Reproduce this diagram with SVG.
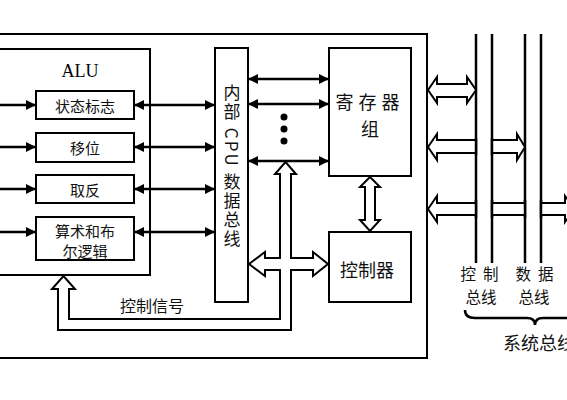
<svg xmlns="http://www.w3.org/2000/svg" width="567" height="400" viewBox="0 0 567 400">
<style>
.box{fill:#fff;stroke:#000;stroke-width:2}
.ln{stroke:#000;stroke-width:2.5;fill:none}
.bus{stroke:#000;stroke-width:2.5}
.hol{fill:#fff;stroke:#000;stroke-width:2;stroke-linejoin:miter}
.cn{font-family:"Noto Sans CJK SC","Noto Sans",sans-serif;fill:#111;text-anchor:middle;dominant-baseline:central}
.ser{font-family:"Liberation Serif",serif;fill:#000;text-anchor:middle;dominant-baseline:central}
</style>
<defs>
<marker id="ah" markerUnits="userSpaceOnUse" markerWidth="11" markerHeight="11" refX="10" refY="5" orient="auto-start-reverse">
<path d="M0,0 L10,5 L0,10 z" fill="#000"/>
</marker>
</defs>
<rect width="567" height="400" fill="#fff"/>

<g id="outer"><rect class="box" x="-10" y="34" width="437" height="324"/></g>

<g id="alu">
<rect class="box" x="-10" y="49" width="160" height="226"/>
<text class="ser" x="80" y="71" font-size="18">ALU</text>
</g>
<g id="flag"><rect class="box" x="36" y="91" width="98" height="28"/><text class="cn" x="85" y="105" font-size="15">状态标志</text></g>
<g id="shift"><rect class="box" x="36" y="133" width="98" height="29"/><text class="cn" x="85" y="147" font-size="15">移位</text></g>
<g id="neg"><rect class="box" x="36" y="175" width="98" height="28"/><text class="cn" x="85" y="189" font-size="15">取反</text></g>
<g id="arith"><rect class="box" x="36" y="217" width="98" height="43"/><text class="cn" font-size="15"><tspan x="85" y="230">算术和布</tspan><tspan x="85" y="250">尔逻辑</tspan></text></g>

<g id="ibus">
<rect class="box" x="215" y="48" width="33" height="254"/>
<text x="232" y="84" font-size="17" font-family="Noto Sans CJK SC, sans-serif" fill="#111" style="writing-mode:vertical-rl;text-orientation:mixed" letter-spacing="2">内部 CPU 数据总线</text>
</g>

<g id="regs">
<rect class="box" x="329" y="48" width="82" height="128"/>
<text class="cn" font-size="18"><tspan x="370" y="101" letter-spacing="5">寄存器</tspan><tspan x="370" y="128">组</tspan></text>
</g>
<g id="ctrl">
<rect class="box" x="329" y="232" width="82" height="70"/>
<text class="cn" x="367" y="269" font-size="18">控制器</text>
</g>

<g id="sysbus">
<line class="bus" x1="476" y1="34" x2="476" y2="263"/>
<line class="bus" x1="492" y1="34" x2="492" y2="263"/>
<line class="bus" x1="525" y1="34" x2="525" y2="263"/>
<line class="bus" x1="541" y1="34" x2="541" y2="263"/>
<text class="cn" font-size="15.5"><tspan x="483" y="273" letter-spacing="7">控制</tspan><tspan x="481" y="296">总线</tspan></text>
<text class="cn" font-size="15.5"><tspan x="538" y="273" letter-spacing="7">数据</tspan><tspan x="534" y="296">总线</tspan></text>
<path class="ln" stroke-width="2" d="M465,310 Q465,318 475,318 L527,318 Q535,318 535,325 Q535,318 543,318 L595,318 Q605,318 605,310"/>
<text class="cn" x="503" y="342" font-size="18" style="text-anchor:start">系统总线</text>
</g>

<g id="connectors">
<line class="ln" x1="-5" y1="105" x2="36" y2="105" marker-end="url(#ah)"/>
<line class="ln" x1="-5" y1="147" x2="36" y2="147" marker-end="url(#ah)"/>
<line class="ln" x1="-5" y1="189" x2="36" y2="189" marker-end="url(#ah)"/>
<line class="ln" x1="-5" y1="232" x2="36" y2="232" marker-end="url(#ah)"/>
<line class="ln" x1="134" y1="105" x2="215" y2="105" marker-start="url(#ah)" marker-end="url(#ah)"/>
<line class="ln" x1="134" y1="147" x2="215" y2="147" marker-start="url(#ah)" marker-end="url(#ah)"/>
<line class="ln" x1="134" y1="189" x2="215" y2="189" marker-start="url(#ah)" marker-end="url(#ah)"/>
<line class="ln" x1="134" y1="232" x2="215" y2="232" marker-start="url(#ah)" marker-end="url(#ah)"/>
<line class="ln" x1="248" y1="79" x2="329" y2="79" marker-start="url(#ah)" marker-end="url(#ah)"/>
<line class="ln" x1="248" y1="104" x2="329" y2="104" marker-start="url(#ah)" marker-end="url(#ah)"/>
<line class="ln" x1="248" y1="161" x2="329" y2="161" marker-start="url(#ah)" marker-end="url(#ah)"/>
<circle cx="284" cy="117" r="3.5" fill="#000"/>
<circle cx="284" cy="129" r="3.5" fill="#000"/>
<circle cx="284" cy="141" r="3.5" fill="#000"/>

<polygon class="hol" points="285.5,162 296,174 291,174 291,258 313,258 313,252 328,264 313,276 313,270 291,270 291,330 58,330 58,289 52,289 63.5,276 75,289 69,289 69,319 280,319 280,270 265,270 265,276 249,264 265,252 265,258 280,258 280,174 275,174"/>
<text class="cn" x="152" y="305" font-size="16">控制信号</text>

<polygon class="hol" points="370,177 380,187 375,187 375,220 380,220 370,231 360,220 365,220 365,187 360,187"/>

<polygon class="hol" points="428,90 437,77 437,84 467,84 467,77 476,90 467,103 467,97 437,97 437,103"/>
<polygon class="hol" points="428,147 437,134 437,140 476,140 476,153 437,153 437,160"/>
<polygon class="hol" points="492,140 517,140 517,134 525,147 517,160 517,153 492,153"/>
<line class="bus" x1="476" y1="138" x2="476" y2="155"/>
<line class="bus" x1="492" y1="138" x2="492" y2="155"/>
<polygon class="hol" points="428,209 437,196 437,203 476,203 476,215 437,215 437,222"/>
<polygon class="hol" points="492,203 525,203 525,215 492,215"/>
<polygon class="hol" points="541,203 565,203 565,196 575,209 565,222 565,215 541,215"/>
<line class="bus" x1="476" y1="200" x2="476" y2="218"/>
<line class="bus" x1="492" y1="200" x2="492" y2="218"/>
<line class="bus" x1="525" y1="200" x2="525" y2="218"/>
<line class="bus" x1="541" y1="200" x2="541" y2="218"/>
</g>
</svg>
